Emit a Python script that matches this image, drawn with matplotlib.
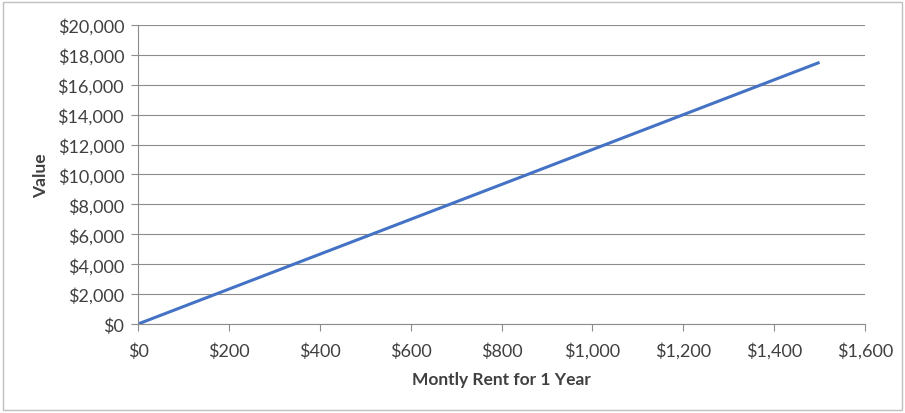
import matplotlib
matplotlib.use('Agg')
import matplotlib.pyplot as plt
from matplotlib.patches import Rectangle
from matplotlib.ticker import FuncFormatter

plt.rcParams['font.family'] = ['Lato', 'DejaVu Sans']

# monthly rent vs. value after 1 year
rent = [0, 100, 200, 300, 400, 500, 600, 700, 800, 900, 1000, 1100, 1200, 1300, 1400, 1500]
value = [0, 1167, 2333, 3500, 4667, 5833, 7000, 8167, 9333, 10500,
         11667, 12833, 14000, 15167, 16333, 17500]

x_ticks = [0, 200, 400, 600, 800, 1000, 1200, 1400, 1600]
y_ticks = [0, 2000, 4000, 6000, 8000, 10000, 12000, 14000, 16000, 18000, 20000]

grey = '#8C8C8C'

fig = plt.figure(figsize=(9.05, 4.14), dpi=100)
ax = fig.add_axes([138 / 905, 1 - 325 / 414, (865 - 138) / 905, (325 - 26) / 414])

ax.plot(rent, value, color='#4472C4', linewidth=2.2, solid_capstyle='butt')

ax.set_xlim(0, 1600)
ax.set_ylim(0, 20000)
ax.set_xticks(x_ticks)
ax.set_yticks(y_ticks)
money = FuncFormatter(lambda v, p: '${:,.0f}'.format(v))
ax.xaxis.set_major_formatter(money)
ax.yaxis.set_major_formatter(money)

ax.grid(axis='y', color=grey, linewidth=0.8)
ax.set_axisbelow(True)
for s in ['top', 'right']:
    ax.spines[s].set_visible(False)
for s in ['left', 'bottom']:
    ax.spines[s].set_color(grey)
    ax.spines[s].set_linewidth(0.8)
ax.tick_params(axis='both', colors=grey, length=5, width=0.8, labelcolor='#404040', labelsize=13)
ax.tick_params(axis='x', pad=8)
ax.tick_params(axis='y', pad=5)

ax.set_xlabel('Montly Rent for 1 Year', fontsize=12.5, fontweight='bold', color='#404040', labelpad=9)
ax.set_ylabel('Value', fontsize=12.5, fontweight='bold', color='#404040', labelpad=6)

# outer chart border
fig.patches.append(Rectangle((3 / 905, 3 / 414), 899 / 905, 408 / 414, transform=fig.transFigure,
                             fill=False, edgecolor='#BFBFBF', linewidth=1))

fig.savefig('out.png', dpi=100)
